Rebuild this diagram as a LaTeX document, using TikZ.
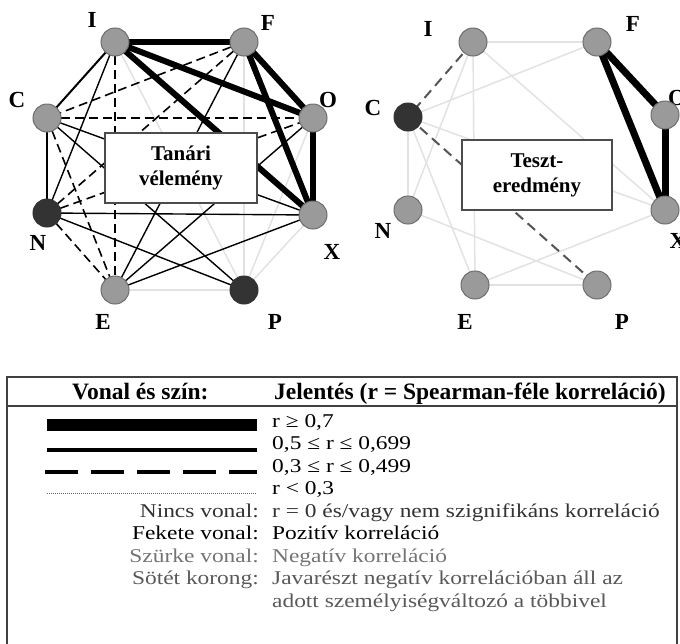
\documentclass[tikz,border=0pt]{standalone}
\usepackage{fontspec}
\setmainfont{Liberation Serif}
\newfontfamily\jelfont{Liberation Serif}[FakeStretch=1.2]
\definecolor{korongszurke}{HTML}{9A9A9A}
\definecolor{korongkeret}{HTML}{6E6E6E}
\definecolor{sotetkorong}{HTML}{333333}
\definecolor{halvany}{HTML}{E2E2E2}
\definecolor{negszurke}{HTML}{555555}
\definecolor{szurkeszoveg}{HTML}{747474}
\tikzset{
  korong/.style={circle, draw=korongkeret, fill=korongszurke, line width=1pt, minimum size=28pt, inner sep=0pt},
  sotet/.style={korong, fill=sotetkorong, draw=black!80},
  betu/.style={font=\fontsize{23}{23}\selectfont\bfseries, inner sep=0pt},
  eros/.style={line width=6pt},
  kozep/.style={line width=2pt},
  vekony/.style={line width=1.4pt},
  szagg/.style={line width=1.6pt, dash pattern=on 9pt off 5pt},
  halv/.style={line width=1.5pt, draw=halvany},
  negszagg/.style={line width=2pt, draw=negszurke, dash pattern=on 10pt off 6pt},
  doboz/.style={draw=black!70, fill=white, line width=1.2pt, minimum width=152pt, minimum height=70pt, align=center, inner sep=0pt, font=\fontsize{21}{25}\selectfont\bfseries},
  fejlec/.style={font=\fontsize{23.5}{23.5}\selectfont\bfseries, inner sep=0pt, anchor=base west},
  szoveg/.style={font=\jelfont\fontsize{19.5}{19.5}\selectfont, inner sep=0pt, anchor=base west},
  cimke/.style={szoveg, anchor=base east}
}
\begin{document}
\begin{tikzpicture}[x=1pt, y=-1pt]
    \useasboundingbox (0,0) rectangle (680,643);

    % Tanari velemeny: betuk
    \node[betu] (lI) at (92,20) {I};
    \node[betu] (lF) at (268,23) {F};
    \node[betu] (lC) at (17,100) {C};
    \node[betu] (lO) at (328,100) {O};
    \node[betu] (lN) at (38,243) {N};
    \node[betu] (lX) at (332,252) {X};
    \node[betu] (lE) at (103,322) {E};
    \node[betu] (lP) at (275,322) {P};

    % Tanari velemeny: koordinatak
    \coordinate (I) at (115,42);
    \coordinate (F) at (244,42);
    \coordinate (C) at (47,118);
    \coordinate (O) at (313,118);
    \coordinate (N) at (47,213);
    \coordinate (X) at (313,215);
    \coordinate (E) at (115,290);
    \coordinate (P) at (244,290);

    % halvany (negativ, gyenge) vonalak
    \draw[halv] (I) -- (P);
    \draw[halv] (F) -- (P);
    \draw[halv] (O) -- (P);
    \draw[halv] (X) -- (P);
    \draw[halv] (E) -- (P);

    % szaggatott vonalak
    \draw[szagg] (I) -- (E);
    \draw[szagg] (F) -- (C);
    \draw[szagg] (F) -- (N);
    \draw[szagg] (C) -- (O);
    \draw[szagg] (C) -- (E);
    \draw[szagg] (N) -- (O);
    \draw[szagg] (N) -- (E);

    % folytonos vonalak
    \draw[kozep] (I) -- (C);
    \draw[vekony] (I) -- (N);
    \draw[vekony] (F) -- (E);
    \draw[vekony] (C) -- (N);
    \draw[vekony] (C) -- (X);
    \draw[vekony] (C) -- (P);
    \draw[vekony] (N) -- (X);
    \draw[vekony] (N) -- (P);
    \draw[vekony] (O) -- (E);
    \draw[vekony] (X) -- (E);

    % vastag vonalak
    \draw[eros] (I) -- (F);
    \draw[eros] (I) -- (O);
    \draw[eros] (I) -- (X);
    \draw[eros] (F) -- (O);
    \draw[eros] (F) -- (X);
    \draw[eros] (O) -- (X);

    % korongok
    \node[korong] (nI) at (I) {};
    \node[korong] (nF) at (F) {};
    \node[korong] (nC) at (C) {};
    \node[korong] (nO) at (O) {};
    \node[sotet] (nN) at (N) {};
    \node[korong] (nX) at (X) {};
    \node[korong] (nE) at (E) {};
    \node[sotet] (nP) at (P) {};

    \node[doboz] (tanari) at (181,168) {Tanári\\vélemény};

    % Teszteredmeny: betuk
    \node[betu] (rlI) at (428,29) {I};
    \node[betu] (rlF) at (633,24) {F};
    \node[betu] (rlC) at (373,108) {C};
    \node[betu] (rlO) at (677,98) {O};
    \node[betu] (rlN) at (383,231) {N};
    \node[betu] (rlX) at (678,241) {X};
    \node[betu] (rlE) at (465,322) {E};
    \node[betu] (rlP) at (622,322) {P};

    % Teszteredmeny: koordinatak
    \coordinate (rI) at (473,42);
    \coordinate (rF) at (597,42);
    \coordinate (rC) at (408,117);
    \coordinate (rO) at (665,115);
    \coordinate (rN) at (408,210);
    \coordinate (rX) at (665,210);
    \coordinate (rE) at (475,285);
    \coordinate (rP) at (597,285);

    % halvany vonalak
    \draw[halv] (rI) -- (rF);
    \draw[halv] (rI) -- (rE);
    \draw[halv] (rI) -- (rN);
    \draw[halv] (rI) -- (rX);
    \draw[halv] (rF) -- (rC);
    \draw[halv] (rC) -- (rN);
    \draw[halv] (rC) -- (rE);
    \draw[halv] (rC) -- (rX);
    \draw[halv] (rN) -- (rP);
    \draw[halv] (rX) -- (rE);
    \draw[halv] (rE) -- (rP);

    % szurke szaggatott vonalak
    \draw[negszagg] (rI) -- (rC);
    \draw[negszagg] (rC) -- (rP);

    % vastag vonalak
    \draw[eros, line width=7pt] (rF) -- (rO);
    \draw[eros, line width=7pt] (rF) -- (rX);
    \draw[eros, line width=7pt] (rO) -- (rX);

    % korongok
    \node[korong] (mI) at (rI) {};
    \node[korong] (mF) at (rF) {};
    \node[sotet] (mC) at (rC) {};
    \node[korong] (mO) at (rO) {};
    \node[korong] (mN) at (rN) {};
    \node[korong] (mX) at (rX) {};
    \node[korong] (mE) at (rE) {};
    \node[korong] (mP) at (rP) {};

    \node[doboz, minimum width=150pt] (teszt) at (537,175) {Teszt-\\eredmény};

    % Jelmagyarazat tablazat
    \draw[line width=1.5pt, draw=black!75] (7,660) -- (7,377) -- (677,377) -- (677,660);
    \draw[line width=1.5pt, draw=black!75] (7,406) -- (677,406);
    \node[fejlec] (fej1) at (72,399) {Vonal és szín:};
    \node[fejlec] (fej2) at (274,399) {Jelentés (r = Spearman-féle korreláció)};

    % mintavonalak
    \coordinate (v1a) at (47,425);
    \coordinate (v1b) at (257,425);
    \coordinate (v2a) at (47,450);
    \coordinate (v2b) at (257,450);
    \coordinate (v3a) at (45,472);
    \coordinate (v3b) at (257,472);
    \coordinate (v4a) at (47,493);
    \coordinate (v4b) at (257,493);
    \draw[line width=12pt] (v1a) -- (v1b);
    \draw[line width=4pt] (v2a) -- (v2b);
    \draw[line width=4pt, dash pattern=on 33pt off 13pt] (v3a) -- (v3b);
    \draw[line width=1pt, draw=black!60, dash pattern=on 1pt off 1pt] (v4a) -- (v4b);

    % szovegek
    \node[szoveg] (s1) at (272,427) {r ≥ 0,7};
    \node[szoveg] (s2) at (272,449.5) {0,5 ≤ r ≤ 0,699};
    \node[szoveg] (s3) at (272,472) {0,3 ≤ r ≤ 0,499};
    \node[szoveg] (s4) at (272,494.5) {r < 0,3};
    \node[cimke, text=black!80] (c5) at (259,517) {Nincs vonal:};
    \node[szoveg, text=black!80] (s5) at (272,517) {r = 0 és/vagy nem szignifikáns korreláció};
    \node[cimke] (c6) at (259,539.5) {Fekete vonal:};
    \node[szoveg] (s6) at (272,539.5) {Pozitív korreláció};
    \node[cimke, text=szurkeszoveg] (c7) at (259,562) {Szürke vonal:};
    \node[szoveg, text=szurkeszoveg] (s7) at (272,562) {Negatív korreláció};
    \node[cimke, text=black!65] (c8) at (259,584.5) {Sötét korong:};
    \node[szoveg, text=black!65] (s8) at (272,584.5) {Javarészt negatív korrelációban áll az};
    \node[szoveg, text=black!65] (s9) at (272,607) {adott személyiségváltozó a többivel};
\end{tikzpicture}
\end{document}
